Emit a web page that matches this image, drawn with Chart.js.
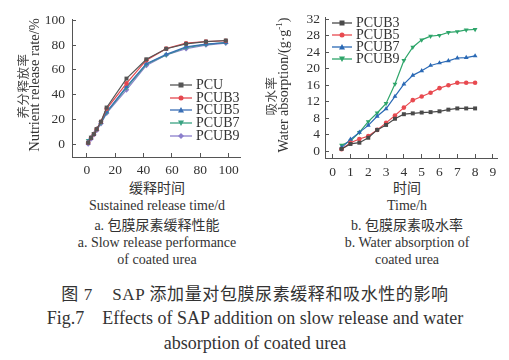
<!DOCTYPE html>
<html>
<head>
<meta charset="utf-8">
<script src="https://cdn.jsdelivr.net/npm/chart.js@4/dist/chart.umd.min.js"></script>
<style>
  html, body { margin: 0; padding: 0; background: #fff; }
  #root { position: relative; width: 509px; height: 360px; overflow: hidden; font-family: 'Liberation Serif', 'Noto Sans CJK SC', serif; color: #333; }
  .abs { position: absolute; white-space: nowrap; }
  .c { transform: translateX(-50%); text-align: center; }
  .r90 { position: absolute; white-space: nowrap; transform: rotate(-90deg) translate(-50%,0); transform-origin: 0 0; }
  .leg { position: absolute; font-size: 14px; line-height: 14px; color: #333; }
  .leg div { display: flex; align-items: center; white-space: nowrap; }
  .leg svg { margin-right: 4px; }
</style>
</head>
<body>
<div id="root">
  <canvas id="cA" width="250" height="180" style="position:absolute;left:0;top:0"></canvas>
  <canvas id="cB" width="259" height="180" style="position:absolute;left:250px;top:0"></canvas>

  <!-- y-axis titles -->
  <div class="abs" style="left:16px;top:86px"><div class="r90" style="font-family:'Noto Sans CJK SC';font-size:12.5px;line-height:13px;color:#444;letter-spacing:0.5px">养分释放率</div></div>
  <div class="abs" style="left:27px;top:85px"><div class="r90" style="font-size:14.5px;line-height:15px;color:#333">Nutrient release rate/%</div></div>
  <div class="abs" style="left:264px;top:96px"><div class="r90" style="font-family:'Noto Sans CJK SC';font-size:12.5px;line-height:13px;color:#444;letter-spacing:0.5px">吸水率</div></div>
  <div class="abs" style="left:276px;top:85px"><div class="r90" style="font-size:14px;line-height:15px;color:#333">Water absorption/(g·g<sup style="font-size:9px;line-height:0">-1</sup>)</div></div>

  <!-- legends -->
  <div id="legA" class="leg" style="left:170px;top:79px"></div>
  <div id="legB" class="leg" style="left:332px;top:17px"></div>

  <!-- sub captions -->
  <div class="abs c" style="left:157px;top:182px;font-size:14px;line-height:14px">缓释时间</div>
  <div class="abs c" style="left:157px;top:199px;font-size:14px;line-height:14px">Sustained release time/d</div>
  <div class="abs c" style="left:157px;top:219px;font-size:14px;line-height:14px">a. 包膜尿素缓释性能</div>
  <div class="abs c" style="left:157px;top:236px;font-size:14px;line-height:14px">a. Slow release performance</div>
  <div class="abs c" style="left:157px;top:253px;font-size:14px;line-height:14px">of coated urea</div>

  <div class="abs c" style="left:407px;top:182px;font-size:14px;line-height:14px">时间</div>
  <div class="abs c" style="left:407px;top:199px;font-size:14px;line-height:14px">Time/h</div>
  <div class="abs c" style="left:407px;top:219px;font-size:14px;line-height:14px">b. 包膜尿素吸水率</div>
  <div class="abs c" style="left:407px;top:236px;font-size:14px;line-height:14px">b. Water absorption of</div>
  <div class="abs c" style="left:407px;top:253px;font-size:14px;line-height:14px">coated urea</div>

  <!-- figure caption -->
  <div class="abs c" style="left:255px;top:286px;font-size:17px;line-height:18px;letter-spacing:0.6px">图 7&nbsp;&nbsp;&nbsp; SAP 添加量对包膜尿素缓释和吸水性的影响</div>
  <div class="abs c" style="left:255px;top:309px;font-size:18px;line-height:18px">Fig.7&nbsp;&nbsp;&nbsp; Effects of SAP addition on slow release and water</div>
  <div class="abs c" style="left:255px;top:334px;font-size:18px;line-height:18px">absorption of coated urea</div>
</div>

<script>
// ---------- Data: chart a (slow release) ----------
const releaseDays = [1, 3, 5, 7, 10, 14, 28, 42, 56, 70, 84, 98];
const releaseNames = ['PCU', 'PCUB3', 'PCUB5', 'PCUB7', 'PCUB9'];
const relPCU   = [1.0, 5.0, 8.0, 12.0, 18.0, 29.5, 52.9, 68.5, 77.0, 81.0, 82.8, 83.7];
const relPCUB3 = [1.0, 5.0, 8.0, 12.0, 18.0, 28.5, 49.0, 67.8, 77.1, 81.5, 82.8, 83.5];
const relPCUB5 = [2.0, 5.0, 8.0, 12.0, 17.5, 26.0, 46.4, 65.0, 72.5, 78.5, 80.8, 82.0];
const relPCUB7 = [3.0, 5.5, 8.5, 12.0, 17.0, 25.5, 45.6, 64.5, 72.0, 78.0, 80.5, 82.0];
const relPCUB9 = [0.0, 4.0, 7.5, 11.0, 16.5, 25.0, 43.8, 63.5, 72.0, 77.0, 80.0, 81.5];
const releaseXTicks = [0, 20, 40, 60, 80, 100];
const releaseYTicks = [0, 20, 40, 60, 80, 100];

// ---------- Data: chart b (water absorption) ----------
const absorbHours = [0.5, 1, 1.5, 2, 2.5, 3, 3.5, 4, 4.5, 5, 5.5, 6, 6.5, 7, 7.5, 8];
const absorbNames = ['PCUB3', 'PCUB5', 'PCUB7', 'PCUB9'];
const absPCUB3 = [0.6, 1.8, 2.1, 3.3, 5.2, 6.4, 7.9, 9.0, 9.2, 9.4, 9.5, 9.7, 10.1, 10.4, 10.4, 10.4];
const absPCUB5 = [0.5, 2.1, 3.0, 3.7, 5.2, 6.9, 8.7, 10.6, 12.4, 13.3, 14.2, 15.3, 16.0, 16.6, 16.6, 16.6];
const absPCUB7 = [0.9, 2.9, 4.6, 6.3, 8.5, 10.3, 13.3, 16.3, 18.4, 19.5, 20.8, 21.4, 21.9, 22.6, 22.7, 23.1];
const absPCUB9 = [1.5, 2.5, 4.6, 7.2, 9.3, 11.6, 16.3, 22.0, 25.2, 27.0, 27.9, 28.1, 28.8, 29.0, 29.4, 29.5];
const absorbXTicks = [0, 1, 2, 3, 4, 5, 6, 7, 8, 9];
const absorbYTicks = [0, 4, 8, 12, 16, 20, 24, 28, 32];

// ---------- Styles ----------
const styleA = [
  { color: '#555555', shape: 'rect', rot: 0 },
  { color: '#e5474f', shape: 'circle', rot: 0 },
  { color: '#3a6fb5', shape: 'triangle', rot: 0 },
  { color: '#3aa383', shape: 'triangle', rot: 180 },
  { color: '#8b7fcc', shape: 'rectRot', rot: 0 }
];
const styleB = [
  { color: '#4a4a4a', shape: 'rect', rot: 0 },
  { color: '#e84a50', shape: 'circle', rot: 0 },
  { color: '#2a69b5', shape: 'triangle', rot: 0 },
  { color: '#2ea56a', shape: 'triangle', rot: 180 }
];

const FONT = "'Liberation Serif', serif";

function ds(xs, ys, name, st) {
  return {
    label: name,
    data: xs.map((x, i) => ({ x: x, y: ys[i] })),
    borderColor: st.color,
    backgroundColor: st.color,
    borderWidth: 1.2,
    pointStyle: st.shape,
    rotation: st.rot,
    pointRadius: st.shape === 'circle' ? 2.3 : 2.8,
    pointBorderWidth: 0,
    tension: 0
  };
}

function makeChart(id, datasets, cfg) {
  const axisColor = '#555';
  return new Chart(document.getElementById(id), {
    type: 'line',
    data: { datasets: datasets },
    options: {
      responsive: false,
      animation: false,
      devicePixelRatio: 1,
      layout: { padding: { left: 0, top: cfg.top, right: cfg.right, bottom: 0 } },
      plugins: { legend: { display: false }, tooltip: { enabled: false } },
      scales: {
        x: {
          type: 'linear', min: cfg.xMin, max: cfg.xMax,
          afterBuildTicks: s => { s.ticks = cfg.xTicks.map(v => ({ value: v })); },
          afterFit: s => { s.height = cfg.xHeight; },
          border: { display: true, color: axisColor, width: 1 },
          grid: { drawOnChartArea: false, drawTicks: true, tickLength: -4, color: axisColor, tickWidth: 1 },
          ticks: { font: { family: FONT, size: 13.5 }, color: '#333', padding: cfg.xPad, maxRotation: 0, autoSkip: false }
        },
        y: {
          type: 'linear', min: cfg.yMin, max: cfg.yMax,
          afterBuildTicks: s => { s.ticks = cfg.yTicks.map(v => ({ value: v })); },
          afterFit: s => { s.width = cfg.yWidth; },
          border: { display: true, color: axisColor, width: 1 },
          grid: { drawOnChartArea: false, drawTicks: true, tickLength: -4, color: axisColor, tickWidth: 1 },
          ticks: { font: { family: FONT, size: 13.5 }, color: '#333', padding: cfg.yPad, autoSkip: false }
        }
      }
    }
  });
}

const relSeries = [relPCU, relPCUB3, relPCUB5, relPCUB7, relPCUB9];
const absSeries = [absPCUB3, absPCUB5, absPCUB7, absPCUB9];

makeChart('cA', releaseNames.map((n, i) => ds(releaseDays, relSeries[i], n, styleA[i])), {
  xMin: -10.4, xMax: 108, yMin: -10.5, yMax: 101,
  xTicks: releaseXTicks, yTicks: releaseYTicks,
  top: 15, right: 10, xHeight: 23, yWidth: 72, xPad: 9, yPad: 11
});
makeChart('cB', absorbNames.map((n, i) => ds(absorbHours, absSeries[i], n, styleB[i])), {
  xMin: -0.43, xMax: 9.23, yMin: -1.6, yMax: 32.5,
  xTicks: absorbXTicks, yTicks: absorbYTicks,
  top: 14, right: 12, xHeight: 22, yWidth: 75, xPad: 10, yPad: 9
});

// ---------- HTML legends ----------
function markerSvg(st, w) {
  const c = st.color, m = w / 2, y = 5;
  let mk = '';
  if (st.shape === 'rect') mk = `<rect x="${m-2.5}" y="${y-2.5}" width="5" height="5" fill="${c}"/>`;
  else if (st.shape === 'circle') mk = `<circle cx="${m}" cy="${y}" r="2.5" fill="${c}"/>`;
  else if (st.shape === 'rectRot') mk = `<polygon points="${m},${y-3} ${m+3},${y} ${m},${y+3} ${m-3},${y}" fill="${c}"/>`;
  else if (st.rot === 180) mk = `<polygon points="${m-3},${y-2.5} ${m+3},${y-2.5} ${m},${y+3}" fill="${c}"/>`;
  else mk = `<polygon points="${m-3},${y+2.5} ${m+3},${y+2.5} ${m},${y-3}" fill="${c}"/>`;
  return `<svg width="${w}" height="10"><line x1="0" y1="${y}" x2="${w}" y2="${y}" stroke="${c}" stroke-width="1.3"/>${mk}</svg>`;
}
function buildLegend(id, names, styles, w, rowH) {
  const el = document.getElementById(id);
  el.innerHTML = names.map((n, i) => `<div style="height:${rowH}px">${markerSvg(styles[i], w)}<span>${n}</span></div>`).join('');
}
buildLegend('legA', releaseNames, styleA, 22, 12.6);
buildLegend('legB', absorbNames, styleB, 20, 12);
</script>
</body>
</html>
